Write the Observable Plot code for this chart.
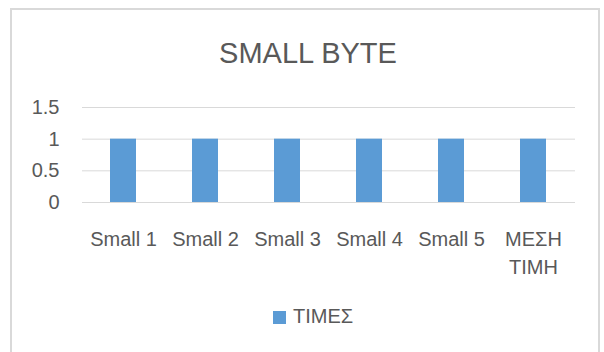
<!DOCTYPE html>
<html>
<head>
<meta charset="utf-8">
<script src="https://cdn.jsdelivr.net/npm/d3@7"></script>
<script src="https://cdn.jsdelivr.net/npm/@observablehq/plot@0.6"></script>
<style>
  html, body { margin: 0; padding: 0; background: #ffffff; }
  #wrap { position: relative; width: 604px; height: 352px; overflow: hidden; background: #ffffff;
          font-family: "Liberation Sans", Arial, sans-serif; color: #595959; }
  #frame { position: absolute; left: 10px; top: 8px; width: 586px; height: 360px; border: 2px solid #d9d9d9; }
  #title { position: absolute; left: 0; width: 616px; top: 39px; text-align: center;
           font-size: 29px; line-height: 29px; white-space: nowrap; }
  #chart { position: absolute; left: 0; top: 0; }
  #legend { position: absolute; left: 273px; top: 306px; height: 20px; display: flex; align-items: center;
            font-size: 20px; line-height: 20px; white-space: nowrap; }
  #legend .sw { width: 13px; height: 13px; margin-right: 7px; margin-top: 2px; }
</style>
</head>
<body>
<div id="wrap">
  <div id="frame"></div>
  <div id="chart"></div>
  <div id="title"></div>
  <div id="legend"></div>
</div>
<script>
const titleText = "SMALL BYTE";
const categories = ["Small 1", "Small 2", "Small 3", "Small 4", "Small 5", "ΜΕΣΗ ΤΙΜΗ"];
const xTickLabels = ["Small 1", "Small 2", "Small 3", "Small 4", "Small 5", "ΜΕΣΗ\nΤΙΜΗ"];
const values = [1, 1, 1, 1, 1, 1];
const yTicks = [0, 0.5, 1, 1.5];
const yTickLabels = ["0", "0.5", "1", "1.5"];
const seriesName = "ΤΙΜΕΣ";
const barColor = "#5B9BD5";

const data = categories.map((c, i) => ({category: c, value: values[i]}));

const plot = Plot.plot({
  width: 604,
  height: 352,
  marginLeft: 82,
  marginRight: 29,
  marginTop: 107,
  marginBottom: 150,
  style: {fontFamily: "Liberation Sans, Arial, sans-serif", fontSize: "20px", color: "#595959", background: "transparent", overflow: "visible"},
  x: {domain: categories, paddingInner: 0.68, paddingOuter: 0.34, label: null},
  y: {domain: [0, 1.5], label: null},
  marks: [
    Plot.ruleY(yTicks, {stroke: "#d9d9d9", strokeWidth: 1}),
    Plot.barY(data, {x: "category", y: "value", fill: barColor}),
    Plot.axisY({ticks: yTicks, tickSize: 0, tickPadding: 23, label: null, fontSize: 20,
                tickFormat: d => yTickLabels[yTicks.indexOf(d)]}),
    Plot.axisX({tickSize: 0, tickPadding: 24, label: null, fontSize: 20, lineHeight: 1.4,
                tickFormat: d => xTickLabels[categories.indexOf(d)]})
  ]
});
document.getElementById("chart").appendChild(plot);
document.getElementById("title").textContent = titleText;
const lg = document.getElementById("legend");
const sw = document.createElement("span");
sw.className = "sw";
sw.style.background = barColor;
lg.appendChild(sw);
const lt = document.createElement("span");
lt.textContent = seriesName;
lg.appendChild(lt);
</script>
</body>
</html>
